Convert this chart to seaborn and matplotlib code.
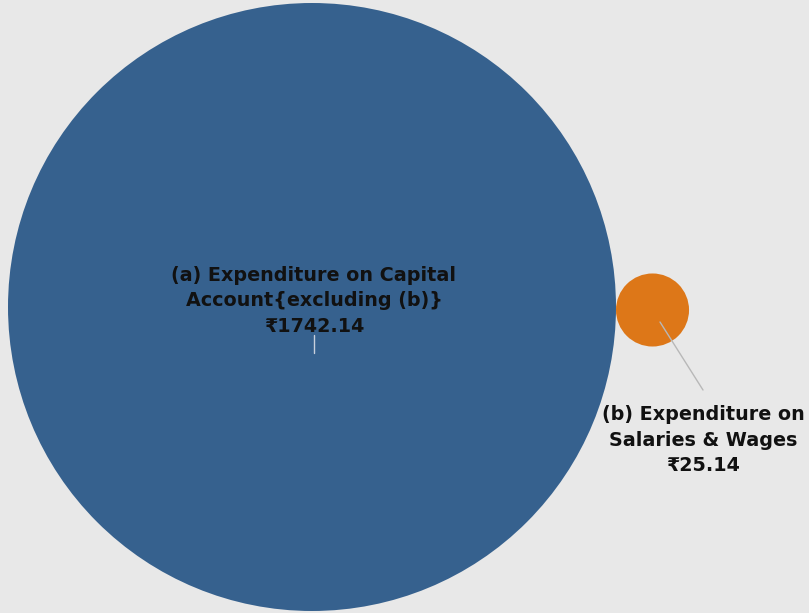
import numpy as np
import pandas as pd
import seaborn as sns
import matplotlib.pyplot as plt

# data
labels = ['(a) Expenditure on Capital\nAccount{excluding (b)}',
          '(b) Expenditure on\nSalaries & Wages']
values = [1742.14, 25.14]
colors = ['#36618e', '#dd7718']

# bubble layout (pixels), radius of largest bubble
big_r = 304
big_cx, big_cy = 312, 307
scale = big_r / np.sqrt(max(values))
radii = [scale * np.sqrt(v) for v in values]
# place second bubble tangent to the first, on the right
xs = [big_cx, big_cx + radii[0] + radii[1]]
ys = [big_cy, big_cy + 3]

df = pd.DataFrame({'label': labels, 'value': values, 'x': xs, 'y': ys})

sns.set_style('white')
plt.rcParams['font.family'] = ['DejaVu Sans', 'Noto Sans']

fig = plt.figure(figsize=(8.09, 6.13), dpi=100)
fig.patch.set_facecolor('#e8e8e8')
ax = fig.add_axes([0, 0, 1, 1])
ax.set_facecolor('#e8e8e8')

# marker area in pt^2: diameter px -> pt
s_max = (2 * big_r * 72 / 100) ** 2
sns.scatterplot(data=df, x='x', y='y', hue='label', size='value',
                palette=colors, sizes=(0, s_max), size_norm=(0, max(values)),
                linewidth=0, alpha=1, legend=False, ax=ax)

ax.set_xlim(0, 809)
ax.set_ylim(613, 0)
ax.set_aspect('equal')
ax.axis('off')

# leader lines
ax.plot([314, 314], [335, 353], color='#c8d0dc', lw=1)
ax.plot([660, 703], [322, 390], color='#b8b8b8', lw=1)

# data labels
txt = dict(ha='center', va='center', fontsize=13.8, fontweight='bold',
           color='#111111', linespacing=1.42)
ax.text(314, 301, labels[0] + '\n\u20b9' + f'{values[0]:.2f}', **txt)
ax.text(703, 440, labels[1] + '\n\u20b9' + f'{values[1]:.2f}', **txt)

fig.savefig('out.png', dpi=100, facecolor=fig.get_facecolor())
